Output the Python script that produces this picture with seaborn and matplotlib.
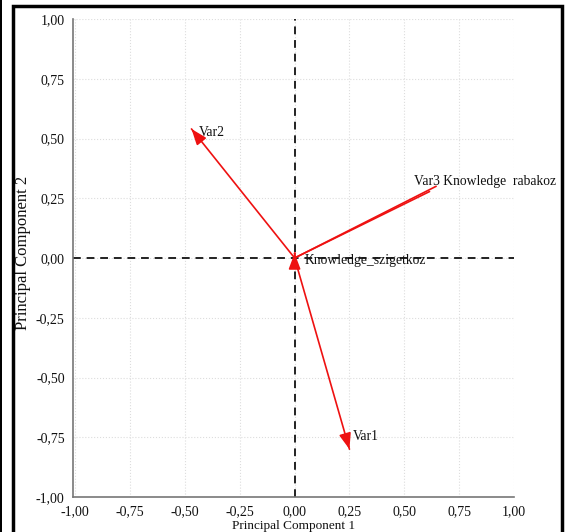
# PCA loading plot (biplot style) with comma decimal ticks
import numpy as np
import pandas as pd
import matplotlib
matplotlib.use("Agg")
import matplotlib.pyplot as plt
import matplotlib.patches as patches
import seaborn as sns

sns.set_theme(style="whitegrid")
plt.rcParams['font.family'] = ['Liberation Serif', 'DejaVu Serif']

# loadings
var_names = ["Var1", "Var2", "Var3", "Knowledge_rabakoz", "Knowledge_szigetkoz"]
pc1 = [0.25, -0.47, 0.645, 0.615, 0.0]
pc2 = [-0.80, 0.54, 0.30, 0.278, 0.02]
label_text = ["Var1", "Var2", "Var3 Knowledge  rabakoz", "", "Knowledge_szigetkoz"]
ticks = [-1.0, -0.75, -0.5, -0.25, 0.0, 0.25, 0.5, 0.75, 1.0]

# one row per segment end so seaborn draws each vector as its own line
rows = []
for n, x, y in zip(var_names, pc1, pc2):
    rows.append({"var": n, "PC1": 0.0, "PC2": 0.0})
    rows.append({"var": n, "PC1": x, "PC2": y})
vec_df = pd.DataFrame(rows)

fig = plt.figure(figsize=(5.68, 5.32), dpi=100)
ax = fig.add_axes([73 / 568, 1 - 497 / 532, (514 - 73) / 568, (497 - 19) / 532])

# dashed reference lines through the origin
ax.axhline(0, color="#222222", ls=(0, (4, 3)), lw=1.4, zorder=2)
ax.axvline(0, color="#222222", ls=(0, (4, 3)), lw=1.4, zorder=2)

sns.lineplot(data=vec_df, x="PC1", y="PC2", units="var", estimator=None,
             sort=False, color="#ee1111", lw=1.2, ax=ax, zorder=3)

# arrow heads (not visible on the Var3 pair in the original)
for n, x, y in zip(var_names, pc1, pc2):
    if n in ("Var3", "Knowledge_rabakoz"):
        continue
    ax.annotate("", xy=(x, y), xytext=(x * 0.94, y * 0.94),
                arrowprops=dict(arrowstyle="-|>,head_length=0.8,head_width=0.3",
                                color="#ee1111", lw=1.2, shrinkA=0, shrinkB=0),
                zorder=4)

offsets = {"Var1": (3, 13), "Var2": (7, -4), "Var3": (-22, 5),
           "Knowledge_szigetkoz": (10, -7)}
for n, x, y, t in zip(var_names, pc1, pc2, label_text):
    if not t:
        continue
    ox, oy = offsets[n]
    ax.annotate(t, xy=(x, y), xytext=(ox, oy), textcoords="offset pixels",
                ha="left", va="center", fontsize=9.8, color="#111111",
                annotation_clip=False, zorder=5)

ax.set_xlim(-1.01, 1.0)
ax.set_ylim(-1.0, 1.0)
ax.set_xticks(ticks)
ax.set_yticks(ticks)
fmt = lambda v: ("%.2f" % v).replace(".", ",").replace("-0,00", "0,00")
ax.set_xticklabels([fmt(v) for v in ticks])
ax.set_yticklabels([fmt(v) for v in ticks])
ax.tick_params(axis="both", labelsize=10, labelcolor="#111111", length=3,
               width=0.8, pad=3, color="#777777")
ax.grid(True, color="#dddddd", ls=":", lw=0.8)
for s in ["top", "right"]:
    ax.spines[s].set_visible(False)
for s in ["left", "bottom"]:
    ax.spines[s].set_color("#777777")
    ax.spines[s].set_linewidth(1.2)
ax.set_xlabel("Principal Component 1", fontsize=9.5, labelpad=1, color="#111111")
ax.set_ylabel("Principal Component 2", fontsize=12, color="#111111")
ax.yaxis.set_label_coords(-0.095, 0.51)

# black frame around the figure, as in the original screenshot
fig.patches.append(patches.Rectangle((13 / 568, -0.02), (562 - 13) / 568, 1 - 6 / 532 + 0.02,
                                     transform=fig.transFigure, fill=False,
                                     edgecolor="black", lw=2.5))
fig.patches.append(patches.Rectangle((0, -0.02), 2 / 568, 1.04,
                                     transform=fig.transFigure, color="black", lw=0))

fig.savefig("out.png", dpi=100)
